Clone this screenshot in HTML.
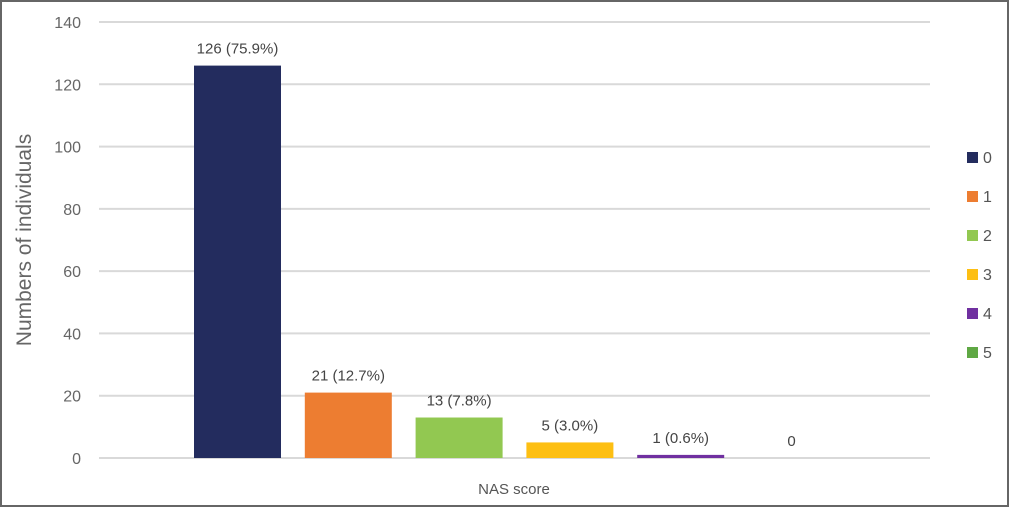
<!DOCTYPE html>
<html><head><meta charset="utf-8"><style>
html,body{margin:0;padding:0;background:#fff}
svg{display:block;font-family:"Liberation Sans",sans-serif}
</style></head><body>
<svg id="chart" width="1010" height="508">
<rect x="1" y="1" width="1007" height="505" fill="#fff" stroke="#666" stroke-width="2"/>
<g id="grid"></g><g id="bars"></g><g id="legend"></g>
<text x="31" y="240" transform="rotate(-90 31 240)" text-anchor="middle" font-size="21" fill="#666">Numbers of individuals</text>
<text x="514" y="494" text-anchor="middle" font-size="15" fill="#555">NAS score</text>
</svg>
<script>
const categories = ["0","1","2","3","4","5"];
const values = [126,21,13,5,1,0];
const valueLabels = ["126 (75.9%)","21 (12.7%)","13 (7.8%)","5 (3.0%)","1 (0.6%)","0"];
const yTicks = [0,20,40,60,80,100,120,140];
const colors = ["#232c5e","#ed7d31","#92c851","#fdbf13","#7030a0","#5fa844"];
const NS="http://www.w3.org/2000/svg";
const y0=458, yTop=22, yMax=140;
function yScale(v){return y0-(v/yMax)*(y0-yTop);}
const barStart=194, barStep=110.8, barW=87;
function xScale(i){return barStart+i*barStep;}
function mk(t,a,p){const e=document.createElementNS(NS,t);for(const k in a)e.setAttribute(k,a[k]);p.appendChild(e);return e;}
const grid=document.getElementById('grid');
yTicks.forEach(t=>{
  const l=mk('line',{x1:99,x2:930,y1:yScale(t),y2:yScale(t),stroke:'#d9d9d9','stroke-width':2},grid);
  
  
  const tx=mk('text',{x:81,y:yScale(t)+6,'text-anchor':'end','font-size':16,fill:'#666'},grid);
  tx.textContent=t;
  
  
});
const bars=document.getElementById('bars');
values.forEach((v,i)=>{
  const h=y0-yScale(v);
  if(h>0){
    const r=mk('rect',{x:xScale(i),y:yScale(v),width:barW,height:h,fill:colors[i]},bars);
    
    
  }
  const t=mk('text',{x:xScale(i)+barW/2,y:yScale(v)-12,'text-anchor':'middle','font-size':15,fill:'#444'},bars);
  t.textContent=valueLabels[i];
  
  
});
const lg=document.getElementById('legend');
categories.forEach((c,i)=>{
  const y=157+i*39;
  const g=mk('g',{},lg);
  
  
  mk('rect',{x:967,y:y-5,width:11,height:11,fill:colors[i]},g);
  const t=mk('text',{x:983,y:y+6,'font-size':16,fill:'#555'},g);
  t.textContent=c;
});
</script>
</body></html>
